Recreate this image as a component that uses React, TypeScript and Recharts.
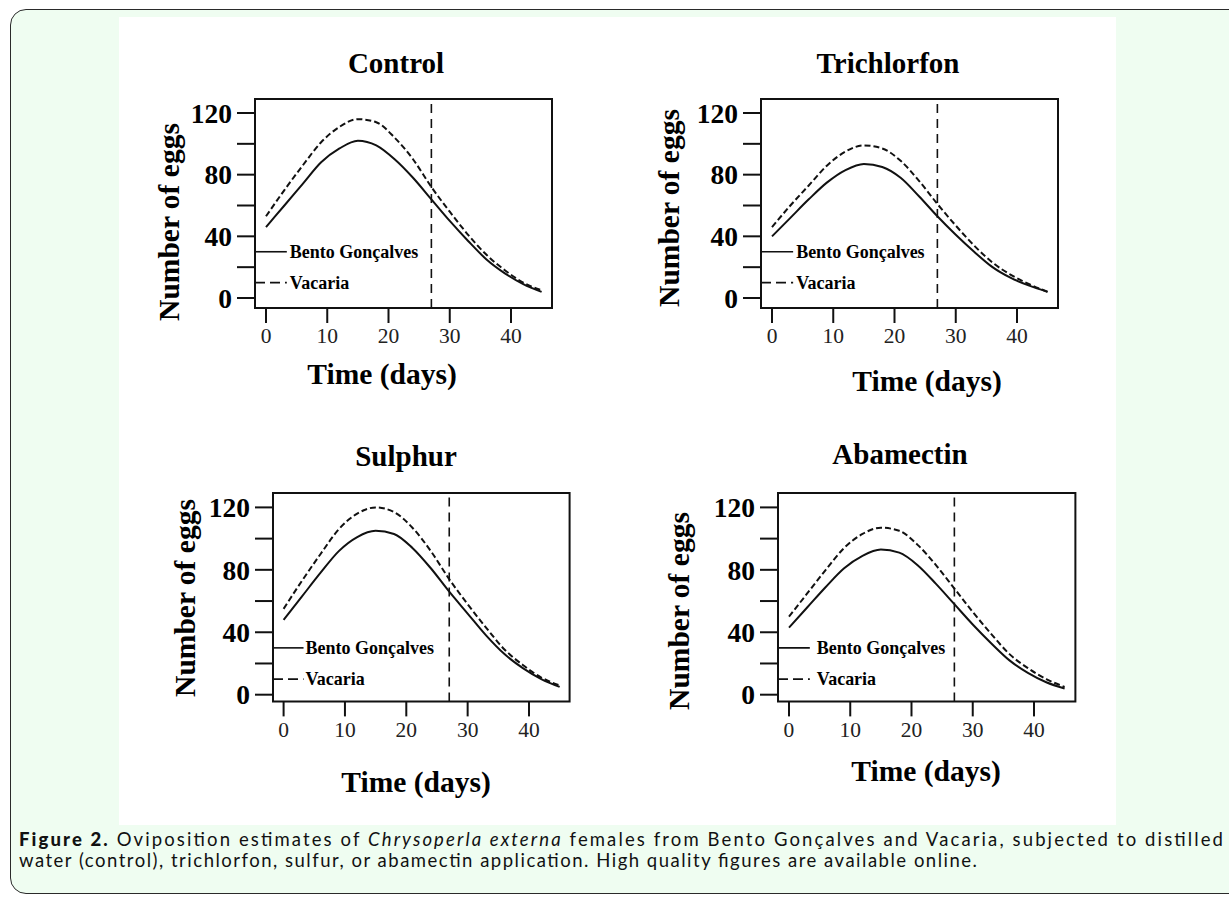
import React from 'react';
import { LineChart, Line, XAxis, YAxis, ReferenceLine, ReferenceArea } from 'recharts';

// ---------- data ----------
const days = [0, 3, 6, 9, 12, 15, 18, 21, 24, 27, 30, 33, 36, 39, 42, 45];
const xTicks = [0, 10, 20, 30, 40];
const yTicks = [0, 20, 40, 60, 80, 100, 120];
const yLabelTicks = [0, 40, 80, 120];
const panelTitles = ['Control', 'Trichlorfon', 'Sulphur', 'Abamectin'];
const seriesNames = ['Bento Gonçalves', 'Vacaria'];
const cutoffDay = 27;
const legendLevels = [30, 10];

const controlBento = [46, 60, 74, 88, 97, 102, 99, 90, 78, 64, 50, 37, 25, 16, 9, 4];
const controlVacaria = [53, 70, 86, 101, 111, 116, 114, 104, 90, 72, 56, 41, 28, 18, 10, 5];
const trichlorfonBento = [40, 52, 64, 75, 83, 87, 85, 78, 66, 53, 41, 30, 20, 13, 8, 4];
const trichlorfonVacaria = [46, 60, 73, 86, 95, 99, 97, 89, 76, 61, 47, 34, 23, 15, 9, 4];
const sulphurBento = [48, 63, 78, 92, 101, 105, 103, 94, 81, 66, 52, 38, 26, 17, 10, 5];
const sulphurVacaria = [55, 73, 90, 106, 116, 120, 117, 107, 92, 74, 58, 43, 29, 19, 11, 6];
const abamectinBento = [43, 56, 69, 81, 89, 93, 91, 83, 71, 58, 45, 33, 22, 14, 8, 4];
const abamectinVacaria = [50, 65, 80, 94, 103, 107, 105, 96, 83, 68, 53, 39, 26, 17, 10, 5];

const bentoSeries = [controlBento, trichlorfonBento, sulphurBento, abamectinBento];
const vacariaSeries = [controlVacaria, trichlorfonVacaria, sulphurVacaria, abamectinVacaria];

// ---------- layout (page pixels) ----------
type Layout = {
  boxL: number; boxT: number; boxR: number; boxB: number;
  x0: number; x40: number; y0: number; y120: number;
  title: [number, number]; xlab: [number, number]; ylab: [number, number];
  legendEnd: number; legendGap: number;
};

const layouts: Layout[] = [
  { boxL: 255, boxT: 99, boxR: 552, boxB: 308, x0: 266, x40: 511, y0: 298, y120: 113,
    title: [396, 63], xlab: [382, 375], ylab: [170, 222], legendEnd: 3.4, legendGap: 3 },
  { boxL: 761, boxT: 99, boxR: 1058, boxB: 308, x0: 772, x40: 1017, y0: 298, y120: 113,
    title: [888, 63], xlab: [927, 382], ylab: [670, 208], legendEnd: 3.45, legendGap: 3 },
  { boxL: 272.7, boxT: 493.3, boxR: 569.3, boxB: 701.7, x0: 283.3, x40: 528.7, y0: 695, y120: 507.7,
    title: [406, 456], xlab: [416, 783], ylab: [186, 598], legendEnd: 3.25, legendGap: 2 },
  { boxL: 778.3, boxT: 493.3, boxR: 1075.7, boxB: 701.7, x0: 789.3, x40: 1034.3, y0: 695, y120: 507.7,
    title: [900, 454], xlab: [926, 772], ylab: [680, 611], legendEnd: 3.4, legendGap: 7 },
];

const SERIF = '"Liberation Serif", "Times New Roman", serif';
const SANS = 'Lato, "Open Sans", sans-serif';

const ML = 130; // space left of plot inside chart svg
const MT = 20;
const MR = 12;
const MB = 60;
const Y_AXIS_W = 60;
const X_AXIS_H = 40;

function Panel({ idx }: { idx: number }) {
  const L = layouts[idx];
  const xPer = (L.x40 - L.x0) / 40;
  const xMin = -(L.x0 - L.boxL) / xPer;
  const xMax = (L.boxR - L.x0) / xPer;
  const yPer = (L.y0 - L.y120) / 120;
  const yMax = (L.y0 - L.boxT) / yPer;
  const yMin = -(L.boxB - L.y0) / yPer;

  const data = days.map((d, i) => ({
    day: d,
    bento: bentoSeries[idx][i],
    vacaria: vacariaSeries[idx][i],
  }));

  const plotW = L.boxR - L.boxL;
  const plotH = L.boxB - L.boxT;
  const W = plotW + ML + MR;
  const H = plotH + MT + MB;
  const left = L.boxL - ML;
  const top = L.boxT - MT;

  const labelStyle = {
    fill: '#000',
    fontSize: 18,
    fontWeight: 700,
    fontFamily: SERIF,
  };

  return (
    <>
      <div style={{ position: 'absolute', left, top, width: W, height: H }}>
        <LineChart
          width={W}
          height={H}
          data={data}
          margin={{ top: MT, right: MR, bottom: MB - X_AXIS_H, left: ML - Y_AXIS_W }}
        >
          <XAxis
            dataKey="day"
            type="number"
            domain={[xMin, xMax]}
            allowDataOverflow
            ticks={xTicks}
            interval={0}
            height={X_AXIS_H}
            axisLine={false}
            tickLine={{ stroke: '#111', strokeWidth: 2 }}
            tickSize={15}
            tickMargin={5}
            tick={{ fill: '#222', fontSize: 21.5, fontFamily: SERIF }}
          />
          <YAxis
            type="number"
            domain={[yMin, yMax]}
            allowDataOverflow
            ticks={yTicks}
            interval={0}
            width={Y_AXIS_W}
            axisLine={false}
            tickLine={{ stroke: '#111', strokeWidth: 2 }}
            tickSize={18}
            tickMargin={5}
            tickFormatter={(v: number) => (yLabelTicks.includes(v) ? String(v) : '')}
            tick={{ fill: '#000', fontSize: 27.5, fontWeight: 700, fontFamily: SERIF }}
          />
          <ReferenceArea
            x1={xMin}
            x2={xMax}
            y1={yMin}
            y2={yMax}
            fill="none"
            fillOpacity={0}
            stroke="#111"
            strokeWidth={2}
            ifOverflow="visible"
          />
          <ReferenceLine
            x={cutoffDay}
            stroke="#111"
            strokeWidth={1.6}
            strokeDasharray="9 6"
          />
          <ReferenceLine
            segment={[{ x: xMin, y: legendLevels[0] }, { x: L.legendEnd, y: legendLevels[0] }]}
            stroke="#111"
            strokeWidth={1.6}
            ifOverflow="visible"
            label={{ value: seriesNames[0], position: 'right', offset: L.legendGap, ...labelStyle }}
          />
          <ReferenceLine
            segment={[{ x: xMin, y: legendLevels[1] }, { x: L.legendEnd, y: legendLevels[1] }]}
            stroke="#111"
            strokeWidth={1.6}
            strokeDasharray="10 5"
            ifOverflow="visible"
            label={{ value: seriesNames[1], position: 'right', offset: L.legendGap, ...labelStyle }}
          />
          <Line
            type="monotone"
            dataKey="bento"
            name={seriesNames[0]}
            stroke="#111"
            strokeWidth={2}
            dot={false}
            isAnimationActive={false}
          />
          <Line
            type="monotone"
            dataKey="vacaria"
            name={seriesNames[1]}
            stroke="#111"
            strokeWidth={2}
            strokeDasharray="6 3"
            dot={false}
            isAnimationActive={false}
          />
        </LineChart>
      </div>
      <div
        style={{
          position: 'absolute', left: L.title[0], top: L.title[1],
          transform: 'translate(-50%, -50%)', whiteSpace: 'nowrap',
          fontFamily: SERIF, fontWeight: 700, fontSize: 29, color: '#000', lineHeight: 1,
        }}
      >
        {panelTitles[idx]}
      </div>
      <div
        style={{
          position: 'absolute', left: L.xlab[0], top: L.xlab[1],
          transform: 'translate(-50%, -50%)', whiteSpace: 'nowrap',
          fontFamily: SERIF, fontWeight: 700, fontSize: 29.5, color: '#000', lineHeight: 1,
        }}
      >
        Time (days)
      </div>
      <div
        style={{
          position: 'absolute', left: L.ylab[0], top: L.ylab[1],
          transform: 'translate(-50%, -50%) rotate(-90deg)', whiteSpace: 'nowrap',
          fontFamily: SERIF, fontWeight: 700, fontSize: 29.5, color: '#000', lineHeight: 1,
        }}
      >
        Number of eggs
      </div>
    </>
  );
}

export default function App() {
  return (
    <div style={{ position: 'relative', width: 1229, height: 899, overflow: 'hidden', background: '#fff' }}>
      <style>{'body{margin:0;overflow:hidden;}'}</style>
      <div
        style={{
          position: 'absolute', left: 10, top: 9, width: 1250, height: 885,
          border: '1.5px solid #2a2a2a', borderRadius: 16, background: '#effdf1', boxSizing: 'border-box',
        }}
      />
      <div style={{ position: 'absolute', left: 119, top: 17, width: 997, height: 808, background: '#fff' }} />
      {panelTitles.map((_, i) => (
        <Panel key={i} idx={i} />
      ))}
      <svg
        width={1229}
        height={74}
        style={{ position: 'absolute', left: 0, top: 825 }}
      >
        <text x={19} y={21} fontFamily={SANS} fontSize={18.5} fill="#111" textLength={1204} lengthAdjust="spacing">
          <tspan fontWeight={900}>Figure 2.</tspan>
          <tspan> Oviposition estimates of </tspan>
          <tspan fontStyle="italic">Chrysoperla externa</tspan>
          <tspan> females from Bento Gonçalves and Vacaria, subjected to distilled</tspan>
        </text>
        <text x={19} y={42} fontFamily={SANS} fontSize={18.5} fill="#111" textLength={958} lengthAdjust="spacing">
          water (control), trichlorfon, sulfur, or abamectin application. High quality figures are available online.
        </text>
      </svg>
    </div>
  );
}
